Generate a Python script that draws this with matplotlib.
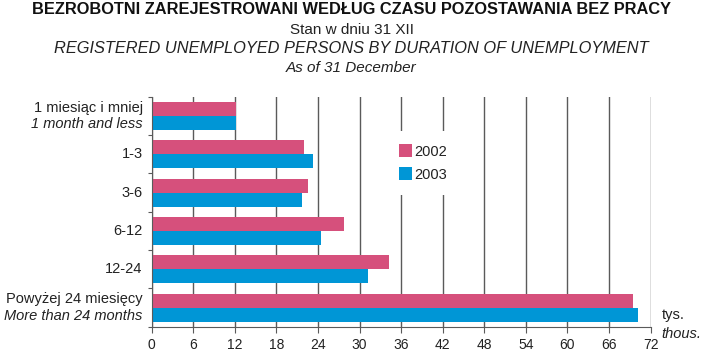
import matplotlib
matplotlib.use('Agg')
from matplotlib import pyplot as plt
import matplotlib.transforms as mtransforms

# data (thousands of persons)
labels_pl = ['1 miesiąc i mniej', '1-3', '3-6', '6-12', '12-24', 'Powyżej 24 miesięcy']
labels_en = ['1 month and less', '', '', '', '', 'More than 24 months']
vals_2002 = [12.2, 22.0, 22.5, 27.7, 34.2, 69.4]
vals_2003 = [12.2, 23.3, 21.7, 24.4, 31.2, 70.2]
years = ['2002', '2003']
xticks = [0, 6, 12, 18, 24, 30, 36, 42, 48, 54, 60, 66, 72]

col02 = '#D6507C'
col03 = '#0096D6'
grid_col = '#5A5A5A'
txt_col = '#222222'

plt.rcParams['font.family'] = ['Liberation Sans', 'DejaVu Sans']

fig = plt.figure(figsize=(7.03, 3.54), dpi=100)
ax = fig.add_axes([0.2158, 0.0771, 0.7097, 0.6497])

ypos = list(range(len(labels_pl)))
h = 0.365
ax.barh([y - h / 2 for y in ypos], vals_2002, height=h, color=col02, label=years[0], zorder=3)
ax.barh([y + h / 2 for y in ypos], vals_2003, height=h, color=col03, label=years[1], zorder=3)

ax.set_xlim(0, 72)
ax.set_ylim(len(labels_pl) - 0.5, -0.5)
ax.set_xticks(xticks)
ax.set_xticklabels([str(t) for t in xticks], fontsize=10, color=txt_col)
ax.set_yticks([y - 0.5 for y in ypos] + [len(ypos) - 0.5])
ax.set_yticklabels([])
ax.tick_params(axis='x', direction='out', length=4, color=grid_col, pad=4)
ax.tick_params(axis='y', direction='out', length=3, color=grid_col)
ax.grid(axis='x', color=grid_col, linewidth=1.0, zorder=1)
ax.set_axisbelow(True)
for s in ['top', 'right']:
    ax.spines[s].set_visible(False)
for s in ['left', 'bottom']:
    ax.spines[s].set_color(grid_col)
    ax.spines[s].set_zorder(4)

# category labels (Polish / English italic)
trans = mtransforms.blended_transform_factory(ax.transAxes, ax.transData)
off = mtransforms.ScaledTranslation(-9 / 100, 0, fig.dpi_scale_trans)
for y, pl, en in zip(ypos, labels_pl, labels_en):
    if en:
        ax.text(0, y - 0.21, pl, transform=trans + off, ha='right', va='center', fontsize=10.5, color=txt_col)
        ax.text(0, y + 0.21, en, transform=trans + off, ha='right', va='center', fontsize=10.5,
                style='italic', color=txt_col)
    else:
        ax.text(0, y, pl, transform=trans + off, ha='right', va='center', fontsize=10.5, color=txt_col)

leg = ax.legend(loc='upper left', bbox_to_anchor=(0.47, 0.85), frameon=True, fontsize=10.5,
                handlelength=0.85, handleheight=0.95, handletextpad=0.15, labelspacing=0.6,
                borderpad=0.9, borderaxespad=0)
leg.get_frame().set_facecolor('white')
leg.get_frame().set_edgecolor('none')
leg.get_frame().set_alpha(1)
leg.set_zorder(5)
for t in leg.get_texts():
    t.set_color(txt_col)

# unit
ax.text(1.022, 0.02, 'tys.', transform=ax.transAxes, fontsize=10.5, ha='left', va='bottom', color=txt_col)
ax.text(1.022, 0.0, 'thous.', transform=ax.transAxes, fontsize=10.5, ha='left', va='top',
        style='italic', color=txt_col)

# titles
fig.text(0.5, 0.972, 'BEZROBOTNI ZAREJESTROWANI WEDŁUG CZASU POZOSTAWANIA BEZ PRACY',
         ha='center', va='center', fontsize=11.8, fontweight='bold', color='#111111')
fig.text(0.5, 0.915, 'Stan w dniu 31 XII', ha='center', va='center', fontsize=11, color=txt_col)
fig.text(0.5, 0.863, 'REGISTERED UNEMPLOYED PERSONS BY DURATION OF UNEMPLOYMENT',
         ha='center', va='center', fontsize=11.8, style='italic', color=txt_col)
fig.text(0.5, 0.807, 'As of 31 December', ha='center', va='center', fontsize=11, style='italic', color=txt_col)

plt.savefig('out.png', dpi=100)
